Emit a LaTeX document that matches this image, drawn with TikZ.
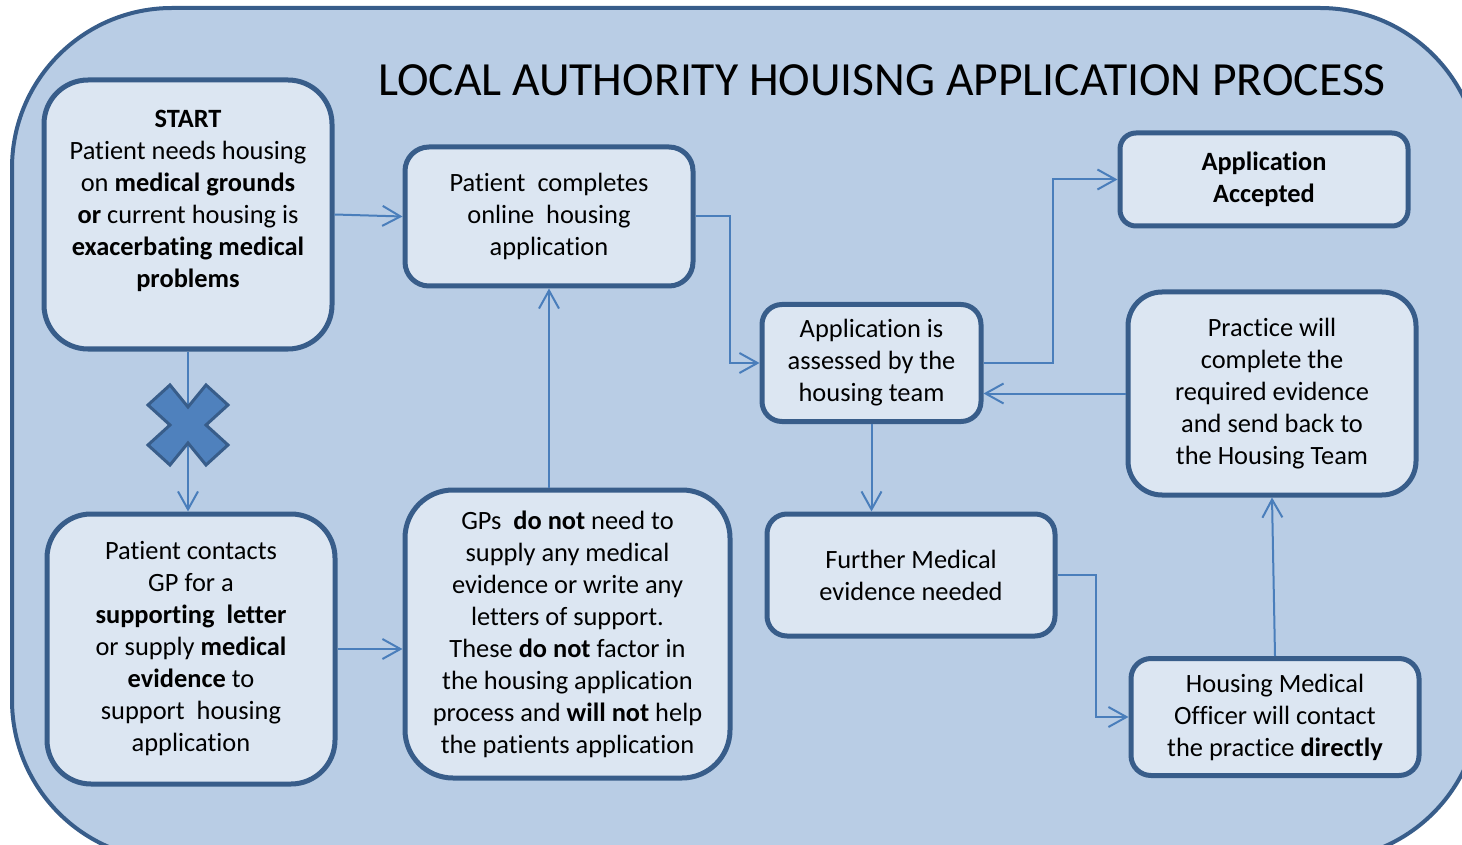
\documentclass[tikz,border=0pt]{standalone}
\usepackage{fontspec}
\setmainfont{Carlito}[Ligatures=NoCommon]
\usetikzlibrary{arrows.meta, positioning, calc}
\definecolor{sfondo}{HTML}{B9CDE5}
\definecolor{riempi}{HTML}{DCE6F2}
\definecolor{bordo}{HTML}{385D8A}
\definecolor{freccia}{HTML}{4A7EBB}
\definecolor{croce}{HTML}{4F81BD}

\begin{document}
\begin{tikzpicture}[x=0.5pt, y=-0.5pt,
    box/.style = {draw=bordo, line width=2.5pt, fill=riempi, align=center, inner sep=0pt, font=\fontsize{13.2}{16}\selectfont},
    link/.style = {draw=freccia, line width=1pt, -{Straight Barb[length=9pt, width=10pt, line width=1pt]}}]
    % Parametri
    \pgfmathsetmacro{\wbox}{144}
    \pgfmathsetmacro{\gap}{34}
    \useasboundingbox (0,0) rectangle (1462,845);
    % Cornice
    \draw[draw=bordo, line width=2pt, fill=sfondo, rounded corners=80pt] (12,8) rectangle (1480,860);
    \node[font=\fontsize{23.8}{28}\selectfont] (titolo) at (882,80) {LOCAL AUTHORITY HOUISNG APPLICATION PROCESS};

    % Riquadri
    \node[box, minimum width=\wbox pt, minimum height=134.5pt, rounded corners=22pt] (start) at (188,214.5)
        {\textbf{START}\\Patient needs housing\\on \textbf{medical grounds}\\\textbf{or} current housing is\\\textbf{exacerbating medical}\\\textbf{problems}\\\mbox{}};
    \node[box, minimum width=\wbox pt, minimum height=69.5pt, rounded corners=12pt] (online) at (549,216.5)
        {Patient\ \ completes\\online\ \ housing\\application};
    \node[box, minimum width=109.5pt, minimum height=58.5pt, rounded corners=10pt] (assess) at (871.5,363)
        {Application is\\assessed by the\\housing team};
    \node[box, minimum width=\wbox pt, minimum height=46.5pt, rounded corners=8pt] (accepted) at (1264,179.5)
        {\textbf{Application}\\\textbf{Accepted}};
    \node[box, minimum width=\wbox pt, minimum height=101.5pt, rounded corners=17pt] (practice) at (1272,393.5)
        {Practice will\\complete the\\required evidence\\and send back to\\the Housing Team};
    \node[box, minimum width=\wbox pt, minimum height=61pt, rounded corners=10pt] (further) at (911,575)
        {Further Medical\\evidence needed};
    \node[box, minimum width=\wbox pt, minimum height=58.5pt, rounded corners=10pt] (officer) at (1275,717)
        {Housing Medical\\Officer will contact\\the practice \textbf{directly}};
    \node[box, minimum width=\wbox pt, minimum height=135pt, rounded corners=22pt] (contacts) at (191,649)
        {Patient contacts\\GP for a\\\textbf{supporting\ \ letter}\\or supply \textbf{medical}\\\textbf{evidence} to\\support\ \ housing\\application};
    \node[box, minimum width=162.5pt, minimum height=144pt, rounded corners=24pt] (gpnote) at (567.5,634)
        {GPs\ \ \textbf{do not} need to\\supply any medical\\evidence or write any\\letters of support.\\These \textbf{do not} factor in\\the housing application\\process and \textbf{will not} help\\the patients application};

    % Frecce
    \draw[link] (start.east) -- (online.west);
    \draw[link] (online.east) -- ++(\gap,0) |- (assess.west);
    \draw[link] (assess.east) -- ++(69,0) |- (accepted.west);
    \draw[link] (practice.west) -- (practice.west -| assess.east);
    \draw[link] (assess.south) -- (assess.south |- further.north);
    \draw[link] (further.east) -- ++(38,0) |- (officer.west);
    \draw[link] (officer.north) -- (practice.south);
    \draw[link] (start.south) -- (start.south |- contacts.north);
    \draw[link] (contacts.east) -- (contacts.east -| gpnote.west);
    \draw[link] (online.south |- gpnote.north) -- (online.south);

    % Croce
    \begin{scope}[shift = {(188,425)}]
        \draw[fill=croce, draw=bordo, line width=1.5pt, line join=miter]
            (-18,-40) -- (0,-18) -- (18,-40) -- (40,-20) -- (18,0) -- (40,20) -- (18,40)
            -- (0,18) -- (-18,40) -- (-40,20) -- (-18,0) -- (-40,-20) -- cycle;
    \end{scope}
\end{tikzpicture}
\end{document}
